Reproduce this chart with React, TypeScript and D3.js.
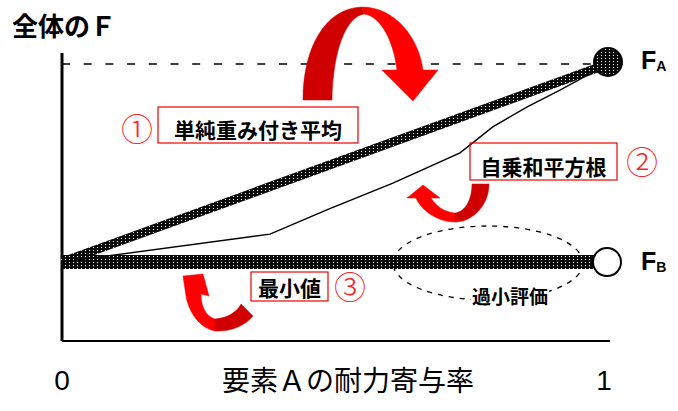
import React, { useEffect, useRef } from "react";
import * as d3 from "d3";

// x: 要素Aの耐力寄与率 (0..1), f: 全体のF (FB..FA normalised)
const xTicks = [0, 1];
const weightedAvg = [
  { r: 0, f: 0.285 },
  { r: 1, f: 1 },
];
const srss = [
  { r: 0, f: 0.285 },
  { r: 0.381, f: 0.386 },
  { r: 0.485, f: 0.473 },
  { r: 0.606, f: 0.57 },
  { r: 0.729, f: 0.679 },
  { r: 0.789, f: 0.773 },
  { r: 0.852, f: 0.845 },
  { r: 0.912, f: 0.906 },
  { r: 1, f: 1 },
];
const minimum = [
  { r: 0, f: 0.285 },
  { r: 1, f: 0.285 },
];
const FA = 1;
const FB = 0.285;

const labels = [
  { no: "①", text: "単純重み付き平均", box: [158, 107, 200, 36], numAt: [137, 141] },
  { no: "②", text: "自乗和平方根", box: [470, 143, 147, 37], numAt: [642, 174] },
  { no: "③", text: "最小値", box: [251, 272, 77, 29], numAt: [350, 299] },
];

const JP = "'Noto Sans CJK JP', 'Noto Sans', sans-serif";
const LAT = "'Liberation Sans', Arial, sans-serif";

export default function App() {
  const ref = useRef<SVGSVGElement | null>(null);

  useEffect(() => {
    const svg = d3.select(ref.current);
    svg.selectAll("*").remove();

    const x = d3.scaleLinear().domain([0, 1]).range([62, 608]);
    const y = d3.scaleLinear().domain([0, 1]).range([341, 64]);

    const defs = svg.append("defs");
    const pat = defs
      .append("pattern")
      .attr("id", "grain")
      .attr("width", 4)
      .attr("height", 3)
      .attr("patternUnits", "userSpaceOnUse");
    pat.append("rect").attr("width", 4).attr("height", 3).attr("fill", "#0a0a0a");
    pat.append("rect").attr("x", 1).attr("y", 1).attr("width", 1).attr("height", 1).attr("fill", "#fff");

    // dashed FA level
    svg
      .append("line")
      .attr("x1", x(0))
      .attr("x2", x(1) - 12)
      .attr("y1", y(FA))
      .attr("y2", y(FA))
      .attr("stroke", "#000")
      .attr("stroke-width", 1.5)
      .attr("stroke-dasharray", "8,13.7");

    // axes
    svg
      .append("line")
      .attr("x1", x(0))
      .attr("x2", x(0))
      .attr("y1", 53)
      .attr("y2", y(0))
      .attr("stroke", "#000")
      .attr("stroke-width", 3);
    svg
      .append("line")
      .attr("x1", x(0))
      .attr("x2", x(1) + 2)
      .attr("y1", y(0))
      .attr("y2", y(0))
      .attr("stroke", "#000")
      .attr("stroke-width", 2);

    svg
      .selectAll(".tick")
      .data(xTicks)
      .enter()
      .append("text")
      .attr("x", (d) => x(d) - (d === 1 ? 4 : 0))
      .attr("y", 390)
      .attr("text-anchor", "middle")
      .attr("font-family", LAT)
      .attr("font-size", 28)
      .text((d) => d);

    svg
      .append("text")
      .attr("x", 222)
      .attr("y", 391)
      .attr("font-family", JP)
      .attr("font-size", 28)
      .text("要素Ａの耐力寄与率");

    svg
      .append("text")
      .attr("x", 12)
      .attr("y", 36)
      .attr("font-family", JP)
      .attr("font-weight", "bold")
      .attr("font-size", 26)
      .text("全体のＦ");

    const line = d3
      .line<{ r: number; f: number }>()
      .x((d) => x(d.r))
      .y((d) => y(d.f));

    // dashed ellipse (過小評価)
    svg
      .append("ellipse")
      .attr("cx", 488)
      .attr("cy", 263)
      .attr("rx", 95)
      .attr("ry", 37)
      .attr("fill", "none")
      .attr("stroke", "#000")
      .attr("stroke-width", 1.3)
      .attr("stroke-dasharray", "5,6");

    svg
      .append("path")
      .datum(minimum)
      .attr("fill", "none")
      .attr("stroke", "url(#grain)")
      .attr("stroke-width", 14)
      .attr("d", line);

    svg
      .append("path")
      .datum(weightedAvg)
      .attr("fill", "none")
      .attr("stroke", "url(#grain)")
      .attr("stroke-width", 9)
      .attr("d", line);

    svg
      .append("path")
      .datum(srss)
      .attr("fill", "none")
      .attr("stroke", "#000")
      .attr("stroke-width", 1.4)
      .attr("d", line);

    // end points
    svg
      .append("circle")
      .attr("cx", x(1))
      .attr("cy", y(FA) - 2)
      .attr("r", 14)
      .attr("fill", "url(#grain)")
      .attr("stroke", "#000")
      .attr("stroke-width", 2);
    svg
      .append("circle")
      .attr("cx", x(1) - 1)
      .attr("cy", y(FB))
      .attr("r", 14)
      .attr("fill", "#fff")
      .attr("stroke", "#000")
      .attr("stroke-width", 2);

    const fLabel = (yy: number, sub: string) => {
      const t = svg
        .append("text")
        .attr("x", 641)
        .attr("y", yy)
        .attr("font-family", LAT)
        .attr("font-weight", "bold")
        .attr("font-size", 25);
      t.append("tspan").text("F");
      t.append("tspan").attr("font-size", 14).attr("dy", 2).text(sub);
    };
    fLabel(y(FA) + 5, "A");
    fLabel(y(FB) + 8, "B");

    // 過小評価 text sitting on the ellipse
    svg
      .append("rect")
      .attr("x", 471)
      .attr("y", 287)
      .attr("width", 78)
      .attr("height", 20)
      .attr("fill", "#fff");
    svg
      .append("text")
      .attr("x", 510)
      .attr("y", 304)
      .attr("text-anchor", "middle")
      .attr("font-family", JP)
      .attr("font-weight", "bold")
      .attr("font-size", 19)
      .text("過小評価");

    // labels with red boxes
    labels.forEach((l) => {
      const [bx, by, bw, bh] = l.box;
      svg
        .append("rect")
        .attr("x", bx)
        .attr("y", by)
        .attr("width", bw)
        .attr("height", bh)
        .attr("fill", "none")
        .attr("stroke", "#e00")
        .attr("stroke-width", 1.2);
      svg
        .append("text")
        .attr("x", bx + bw / 2)
        .attr("y", by + bh - 5)
        .attr("text-anchor", "middle")
        .attr("font-family", JP)
        .attr("font-weight", "bold")
        .attr("font-size", 21)
        .text(l.text);
      svg
        .append("text")
        .attr("x", l.numAt[0])
        .attr("y", l.numAt[1])
        .attr("text-anchor", "middle")
        .attr("font-family", JP)
        .attr("font-weight", 300)
        .attr("font-size", 32)
        .attr("fill", "#f22")
        .text(l.no);
    });

    // red curved arrows
    const bright = "#ff0000";
    const dark = "#d00000";
    const arrows = [
      [dark, "M303,100 C303,48 325,8 362,7 L364,14 C346,17 333,50 332,100 Z"],
      [bright, "M362,7 C395,7 419,38 423,70 L438,70 L413,101 L382,70 L397,70 C394,44 382,16 364,14 Z"],
      [bright, "M455,222 C437,222 421,210 416,198 L407,198 L423,185 L440,198 L431,198 C436,206 444,212 455,213 Z"],
      [dark, "M455,213 C465,212 472,200 472,184 L489,184 C489,206 472,222 455,222 Z"],
      [bright, "M215,319 C205,316 201,305 201,294 L209,296 L203,274 L183,276 L186,296 C189,313 200,328 215,331 Z"],
      [dark, "M215,319 C228,318 238,311 241,304 L253,316 C245,326 230,332 215,331 Z"],
    ];
    svg
      .selectAll(".arrow")
      .data(arrows)
      .enter()
      .append("path")
      .attr("fill", (d) => d[0])
      .attr("stroke", (d) => d[0])
      .attr("stroke-width", 0.5)
      .attr("d", (d) => d[1]);
  }, []);

  return (
    <svg
      ref={ref}
      width={678}
      height={411}
      style={{ position: "absolute", left: 0, top: 0, background: "#fff" }}
    />
  );
}
